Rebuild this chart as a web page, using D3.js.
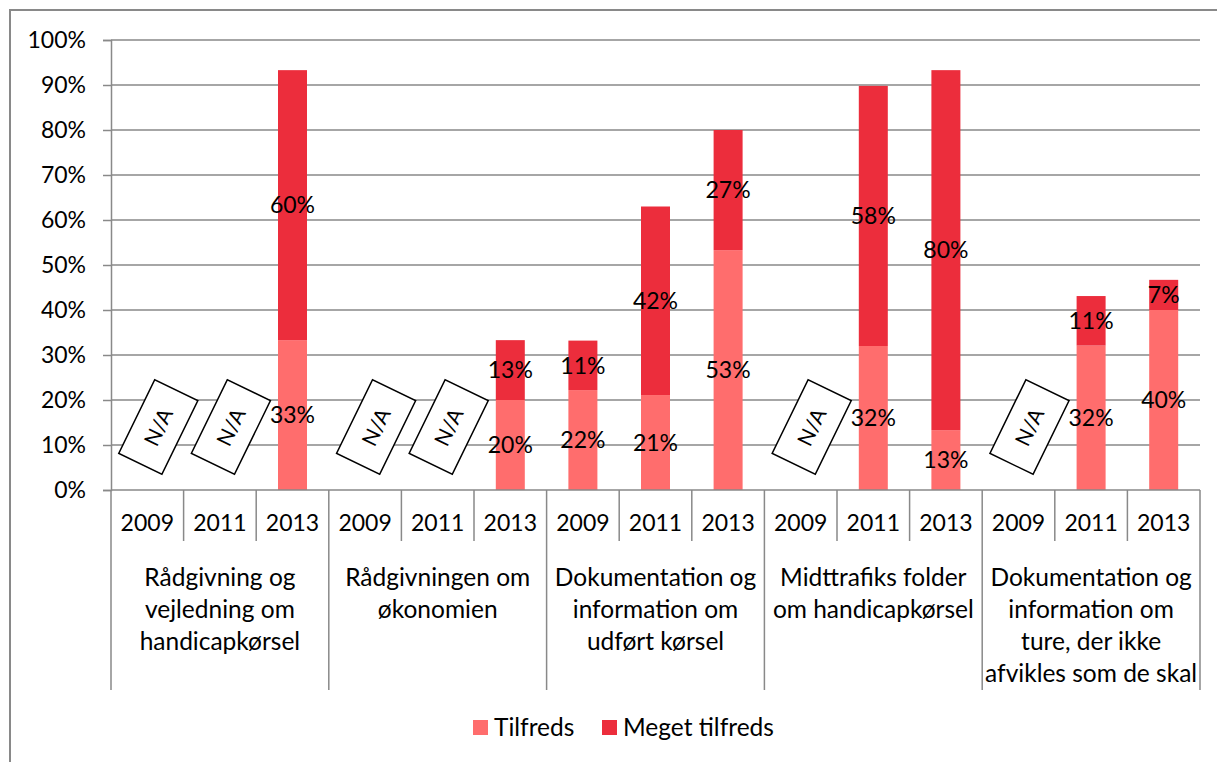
<!DOCTYPE html>
<html>
<head>
<meta charset="utf-8">
<script src="https://cdn.jsdelivr.net/npm/d3@7"></script>
<style>
	body { margin: 0; background: #fff; }
	svg { font-family: Lato, "Open Sans", sans-serif; }
</style>
</head>
<body>
<div id="chart"></div>
<script>

// group labels (each one is split over several lines)
var groups = [
	["Rådgivning og", "vejledning om", "handicapkørsel"],
	["Rådgivningen om", "økonomien"],
	["Dokumentation og", "information om", "udført kørsel"],
	["Midttrafiks folder", "om handicapkørsel"],
	["Dokumentation og", "information om", "ture, der ikke", "afvikles som de skal"]
];

// survey years inside every group
var years = ["2009", "2011", "2013"];

// share of "Tilfreds" per group and year, null = N/A
var tilfreds = [
	[null, null, 33.3],
	[null, null, 20.0],
	[22.2, 21.1, 53.3],
	[null, 32.0, 13.3],
	[null, 32.1, 40.0]
];

// share of "Meget tilfreds" per group and year
var megetTilfreds = [
	[null, null, 60.0],
	[null, null, 13.3],
	[11.0, 41.9, 26.7],
	[null, 57.8, 80.0],
	[null, 11.0, 6.7]
];

// rounded labels shown on the bars
var tilfredsLabels = [
	[null, null, "33%"],
	[null, null, "20%"],
	["22%", "21%", "53%"],
	[null, "32%", "13%"],
	[null, "32%", "40%"]
];
var megetLabels = [
	[null, null, "60%"],
	[null, null, "13%"],
	["11%", "42%", "27%"],
	[null, "58%", "80%"],
	[null, "11%", "7%"]
];

// y axis ticks
var yTicks = [0, 10, 20, 30, 40, 50, 60, 70, 80, 90, 100];

var seriesNames = ["Tilfreds", "Meget tilfreds"];
var seriesColors = ["#ff6d6d", "#ec2d3c"];

var width = 1217, height = 762;
var plot = { left: 111, right: 1200, top: 40, bottom: 490 };
var gridColor = "#898989";
var numSize = 23, textSize = 24.5;

// one flat row per column
var rows = [];
groups.forEach(function (g, gi) {
	years.forEach(function (yr, yi) {
		rows.push({
			key: gi + "-" + yi,
			group: gi,
			year: yr,
			t: tilfreds[gi][yi],
			m: megetTilfreds[gi][yi],
			tl: tilfredsLabels[gi][yi],
			ml: megetLabels[gi][yi]
		});
	});
});

var svg = d3.select("#chart").append("svg")
	.attr("width", width)
	.attr("height", height);

// outer chart frame
svg.append("rect")
	.attr("x", 10).attr("y", 10)
	.attr("width", width + 20).attr("height", height + 20)
	.attr("fill", "none")
	.attr("stroke", gridColor)
	.attr("stroke-width", 2);

var x = d3.scaleBand()
	.domain(rows.map(function (d) { return d.key; }))
	.range([plot.left, plot.right])
	.padding(0);

var y = d3.scaleLinear()
	.domain([0, 100])
	.range([plot.bottom, plot.top]);

var barWidth = 29;

// gridlines
svg.append("g")
	.selectAll("line")
	.data(yTicks.filter(function (t) { return t > 0; }))
	.enter().append("line")
	.attr("x1", plot.left).attr("x2", plot.right)
	.attr("y1", function (d) { return y(d); })
	.attr("y2", function (d) { return y(d); })
	.attr("stroke", gridColor)
	.attr("stroke-width", 1.5);

// y axis
var yAxis = svg.append("g")
	.attr("transform", "translate(" + plot.left + ",0)")
	.call(d3.axisLeft(y)
		.tickValues(yTicks)
		.tickSize(8)
		.tickPadding(17)
		.tickFormat(function (d) { return d + "%"; }));
yAxis.select(".domain").attr("stroke", gridColor).attr("stroke-width", 1.5);
yAxis.selectAll(".tick line").attr("stroke", gridColor).attr("stroke-width", 1.5);
yAxis.selectAll("text")
	.attr("font-family", "Lato, sans-serif")
	.attr("font-size", numSize)
	.attr("fill", "#000");

// stacked bars
var bars = svg.append("g");
rows.forEach(function (d) {
	if (d.t === null) return;
	var cx = x(d.key) + x.bandwidth() / 2;
	bars.append("rect")
		.attr("x", cx - barWidth / 2)
		.attr("y", y(d.t))
		.attr("width", barWidth)
		.attr("height", y(0) - y(d.t))
		.attr("fill", seriesColors[0]);
	bars.append("rect")
		.attr("x", cx - barWidth / 2)
		.attr("y", y(d.t + d.m))
		.attr("width", barWidth)
		.attr("height", y(d.t) - y(d.t + d.m))
		.attr("fill", seriesColors[1]);
});

// x axis base line
svg.append("line")
	.attr("x1", plot.left).attr("x2", plot.right)
	.attr("y1", plot.bottom).attr("y2", plot.bottom)
	.attr("stroke", gridColor)
	.attr("stroke-width", 1.5);

// data labels centred in each segment
var labels = svg.append("g")
	.attr("font-size", numSize)
	.attr("text-anchor", "middle")
	.attr("fill", "#000");
rows.forEach(function (d) {
	if (d.t === null) return;
	var cx = x(d.key) + x.bandwidth() / 2;
	labels.append("text")
		.attr("x", cx)
		.attr("y", y(d.t / 2))
		.attr("dy", "0.36em")
		.text(d.tl);
	labels.append("text")
		.attr("x", cx)
		.attr("y", y(d.t + d.m / 2))
		.attr("dy", "0.36em")
		.text(d.ml);
});

// N/A boxes for missing years
var na = svg.append("g");
rows.forEach(function (d) {
	if (d.t !== null) return;
	var cx = x(d.key) + x.bandwidth() / 2 + 11;
	var cy = y(14);
	var box = na.append("g")
		.attr("transform", "translate(" + cx + "," + cy + ") rotate(-64)");
	box.append("rect")
		.attr("x", -41).attr("y", -24)
		.attr("width", 82).attr("height", 48)
		.attr("fill", "#fff")
		.attr("stroke", "#000")
		.attr("stroke-width", 1.5);
	box.append("text")
		.attr("text-anchor", "middle")
		.attr("dy", "0.36em")
		.attr("font-size", 21)
		.text("N/A");
});

// category axis: year separators
var axisG = svg.append("g");
rows.forEach(function (d, i) {
	var left = x(d.key);
	var isGroupStart = i % years.length === 0;
	axisG.append("line")
		.attr("x1", left).attr("x2", left)
		.attr("y1", plot.bottom)
		.attr("y2", isGroupStart ? 690 : 541)
		.attr("stroke", gridColor)
		.attr("stroke-width", 1.5);
	axisG.append("text")
		.attr("x", left + x.bandwidth() / 2)
		.attr("y", 523)
		.attr("dy", "0.36em")
		.attr("text-anchor", "middle")
		.attr("font-size", numSize)
		.text(d.year);
});
axisG.append("line")
	.attr("x1", plot.right).attr("x2", plot.right)
	.attr("y1", plot.bottom).attr("y2", 690)
	.attr("stroke", gridColor)
	.attr("stroke-width", 1.5);

// group labels
groups.forEach(function (g, gi) {
	var first = x(gi + "-0");
	var last = x(gi + "-" + (years.length - 1)) + x.bandwidth();
	var t = axisG.append("text")
		.attr("text-anchor", "middle")
		.attr("font-size", textSize);
	g.forEach(function (line, li) {
		t.append("tspan")
			.attr("x", (first + last) / 2)
			.attr("y", 577 + li * 32)
			.attr("dy", "0.36em")
			.text(line);
	});
});

// legend
var legend = svg.append("g")
	.attr("transform", "translate(473,727)");
var legendX = [0, 129];
seriesNames.forEach(function (name, i) {
	legend.append("rect")
		.attr("x", legendX[i]).attr("y", -7)
		.attr("width", 15).attr("height", 15)
		.attr("fill", seriesColors[i]);
	legend.append("text")
		.attr("x", legendX[i] + 21)
		.attr("y", 0)
		.attr("dy", "0.36em")
		.attr("font-size", textSize)
		.text(name);
});

</script>
</body>
</html>
